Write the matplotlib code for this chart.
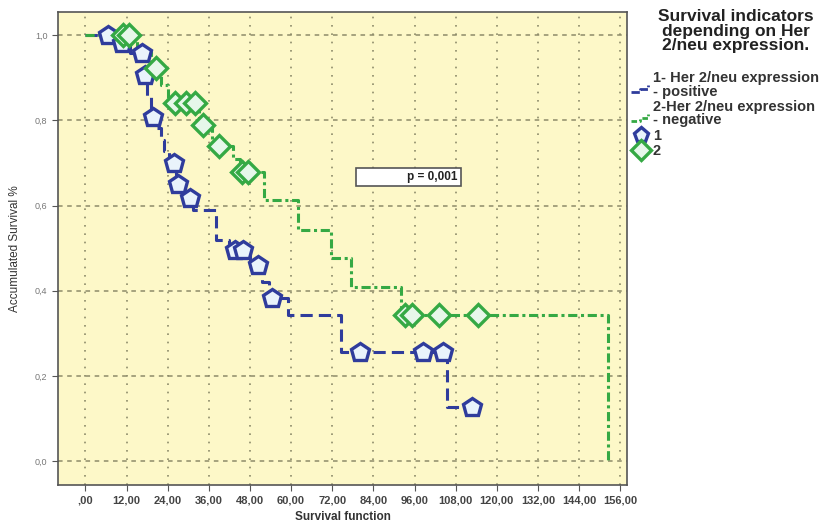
import numpy as np
import matplotlib.pyplot as plt
from matplotlib.lines import Line2D
from matplotlib.patches import Rectangle
from matplotlib.legend_handler import HandlerBase

plt.rcParams['font.family'] = ['Liberation Sans', 'DejaVu Sans']

# Kaplan-Meier steps: time of each drop and survival after it
pos_times = [0, 9, 13, 17, 18, 19, 21, 22, 23, 24.5, 26.5, 29, 31.5, 38, 42, 48,
             51.5, 53.5, 59, 74.5, 105.5]
pos_surv = [1.0, 0.981, 0.958, 0.906, 0.857, 0.808, 0.781, 0.754, 0.727, 0.700,
            0.650, 0.617, 0.589, 0.520, 0.495, 0.460, 0.420, 0.383, 0.343, 0.256, 0.128]
pos_censored = [6.7, 10.8, 16.5, 17.5, 19.8, 25.7, 27.1, 30.6, 43.7, 46.0, 50.4,
                54.5, 80.0, 98.5, 104.4, 112.8]
pos_last = 112.8

neg_times = [0, 15, 19, 22, 24, 33, 37, 43, 45, 52, 62, 71.5, 77.5, 92, 152.5]
neg_surv = [1.0, 0.961, 0.922, 0.883, 0.840, 0.789, 0.740, 0.709, 0.678, 0.613,
            0.542, 0.477, 0.408, 0.343, 0.0]
neg_censored = [11.0, 12.8, 20.5, 26.2, 29.2, 32.0, 34.4, 39.0, 45.8, 47.5, 93.3,
                95.3, 103.0, 114.6]
neg_last = 152.5

x_ticks = np.arange(0, 157, 12)
x_labels = [',00'] + ['%d,00' % t for t in x_ticks[1:]]
y_ticks = [0.0, 0.2, 0.4, 0.6, 0.8, 1.0]
y_labels = ['0,0', '0,2', '0,4', '0,6', '0,8', '1,0']
p_text = 'p = 0,001'

blue = '#2f3c9c'
green = '#35a944'


def surv_at(times, surv, t):
    idx = np.searchsorted(times, t, side='right') - 1
    return np.asarray(surv)[idx]


class StepHandler(HandlerBase):
    # small step-shaped line for the legend
    def __init__(self, color, dashes):
        super().__init__()
        self.color = color
        self.dashes = dashes

    def create_artists(self, legend, orig_handle, xdescent, ydescent, width,
                       height, fontsize, trans):
        w, h = width, height
        xs = [0, 0.45 * w, 0.45 * w, 0.85 * w, 0.85 * w]
        ys = [-0.2 * h, -0.2 * h, 0.15 * h, 0.15 * h, 0.5 * h]
        ln = Line2D(xs, ys, color=self.color, lw=2, dashes=self.dashes,
                    transform=trans)
        return [ln]


fig = plt.figure(figsize=(8.32, 5.23), dpi=100)
ax = fig.add_axes([0.0697, 0.0727, 0.684, 0.904])
ax.set_facecolor('#fdf8c8')

for xt in x_ticks:
    ax.axvline(xt, color='#8d8b6a', lw=1.2, ls=(0, (1, 4)), zorder=1)
for yt in y_ticks:
    ax.axhline(yt, color='#8d8b6a', lw=1.1, ls=(0, (3, 3)), zorder=1)

# survival curves
t1 = list(pos_times) + [pos_last]
s1 = list(pos_surv) + [pos_surv[-1]]
ax.step(t1, s1, where='post', color=blue, lw=2.2, dashes=(4, 2), zorder=3)
t2 = list(neg_times) + [neg_last]
s2 = list(neg_surv) + [neg_surv[-1]]
ax.step(t2, s2, where='post', color=green, lw=2.2, dashes=(3, 1.2, 1, 1.2), zorder=3)

# censored observations
ax.plot(pos_censored, surv_at(pos_times, pos_surv, pos_censored), ls='none',
        marker='p', ms=13.5, mfc='#e9f3fb', mec=blue, mew=2.4, zorder=4)
ax.plot(neg_censored, surv_at(neg_times, neg_surv, neg_censored), ls='none',
        marker='D', ms=11.5, mfc='#e6f7ea', mec=green, mew=2.4, zorder=5)

ax.set_xlim(-8, 158)
ax.set_ylim(-0.056, 1.054)
ax.set_xticks(x_ticks)
ax.set_xticklabels(x_labels, fontsize=8, color='#444444', fontweight='bold')
ax.set_yticks(y_ticks)
ax.set_yticklabels(y_labels, fontsize=6.5, color='#777777')
ax.tick_params(axis='both', direction='out', length=4, color='#555555')
for sp in ax.spines.values():
    sp.set_color('#555555')
    sp.set_linewidth(1.2)

ax.set_xlabel('Survival function', fontsize=8.5, fontweight='bold', color='#333333',
              labelpad=4)
ax.set_ylabel('Accumulated Survival %', fontsize=8.5, color='#333333', labelpad=10)

# p-value box
ax.add_patch(Rectangle((79, 0.646), 30.5, 0.042, facecolor='white',
                       edgecolor='#555555', lw=1.2, zorder=6))
ax.text(108.5, 0.667, p_text, ha='right', va='center', fontsize=8.5,
        fontweight='bold', color='#222222', zorder=7)

# legend title and entries to the right of the plot
fig.text(0.884, 0.983, 'Survival indicators\ndepending on Her\n2/neu expression.',
         ha='center', va='top', fontsize=12.5, fontweight='bold', color='#222222',
         linespacing=0.98)

line_pos = Line2D([], [], color=blue)
line_neg = Line2D([], [], color=green)
mark_pos = Line2D([], [], ls='none', marker='p', ms=11, mfc='#e9f3fb', mec=blue, mew=2.4)
mark_neg = Line2D([], [], ls='none', marker='D', ms=10, mfc='#e6f7ea', mec=green, mew=2.4)
leg = fig.legend([line_pos, line_neg, mark_pos, mark_neg],
                 ['1- Her 2/neu expression\n- positive',
                  '2-Her 2/neu expression\n- negative', '1', '2'],
                 handler_map={line_pos: StepHandler(blue, (3, 1)),
                              line_neg: StepHandler(green, (2, 1, 1, 1))},
                 loc='upper left', bbox_to_anchor=(0.759, 0.864), frameon=False,
                 prop={'size': 10.5, 'weight': 'bold'}, handlelength=1.3,
                 handletextpad=0.15, labelspacing=0.1, borderaxespad=0.0,
                 borderpad=0.0)
for t in leg.get_texts():
    t.set_color('#333333')
    t.set_linespacing(0.95)

fig.savefig('out.png', dpi=100, facecolor='white')
